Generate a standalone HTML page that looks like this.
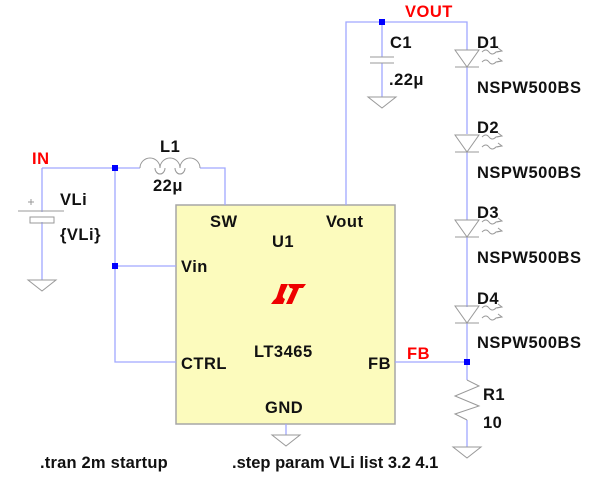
<!DOCTYPE html>
<html><head><style>body{margin:0;background:#fff}svg{display:block}
text{font-family:"Liberation Sans",sans-serif;font-weight:bold;font-size:16.5px;letter-spacing:0.5px;fill:#111}
.r{fill:#f00}
</style></head><body>
<svg width="600" height="478" viewBox="0 0 600 478">
<rect x="176" y="205" width="219" height="219" fill="#fcfbbd" stroke="#a6a6a6" stroke-width="1.5"/>
<g stroke="#a0a8ff" stroke-width="1.3" fill="none">
<path d="M42 168H140M200 168H225V205"/>
<path d="M42 168V212M42 222V280"/>
<path d="M115 168V362H176M115 266H176"/>
<path d="M346 205V22H467V50M382 22V57M382 63V97"/>
<path d="M467 67V134M467 152V220M467 237V307M467 323V380M395 362H467"/>
<path d="M467 420V447M286 424V435"/>
</g>
<g stroke="#999" stroke-width="1" fill="none">
<path d="M18 211H64M30 217h24v6h-24z"/>
<path d="M28 202h6M31 199v6"/>
<path d="M28 280H56L42 291Z"/>
<path d="M140 168a10 10 0 0 1 20 0a10 10 0 0 1 20 0a10 10 0 0 1 20 0"/>
<path d="M155 168a5 6 0 1 0 10 0M175 168a5 6 0 1 0 10 0"/>
<path d="M370 57H394M370 63H394M368 97H396L382 108Z"/>
<path d="M272 435H300L286 446Z"/>
<path d="M453 447H481L467 458Z"/>
<path d="M467 380L479 386L455 396L479 406L455 414L467 420"/>
<g id="d"><path d="M455 50H479L467 67ZM455 67H479"/>
<path d="M482 52q4-4 7 0t7 0l5-1M482 62q4-4 7 0t7 0l5-1M498 48l4 3-5 1M498 58l4 3-5 1"/></g>
<use href="#d" y="85"/><use href="#d" y="170"/><use href="#d" y="256"/>
</g>
<g fill="#00f"><rect x="112" y="165" width="6" height="6"/><rect x="112" y="263" width="6" height="6"/><rect x="379" y="19" width="6" height="6"/><rect x="464" y="359" width="6" height="6"/></g>
<path d="M281 284h7l-5 11q-1 3 2 4l-2 5h-12l3-4q2-1 3-4z" fill="#e00"/>
<path d="M288 284h18l-3 4h-4l-7 16h-6l7-15q-1-1-3-1z" fill="#e00"/>
<text class="r" x="32" y="164">IN</text>
<text x="60" y="205">VLi</text><text x="60" y="240">{VLi}</text>
<text x="160" y="152">L1</text><text x="153" y="191">22μ</text>
<text x="210" y="227">SW</text><text x="326" y="227">Vout</text>
<text x="272" y="247">U1</text><text x="181" y="272">Vin</text>
<text x="181" y="369">CTRL</text><text x="254" y="357">LT3465</text>
<text x="368" y="369">FB</text><text x="265" y="413">GND</text>
<text class="r" x="407" y="359">FB</text>
<text class="r" x="405" y="17">VOUT</text>
<text x="390" y="48">C1</text><text x="389" y="85">.22μ</text>
<text x="477" y="48">D1</text><text x="477" y="93">NSPW500BS</text>
<text x="477" y="133">D2</text><text x="477" y="178">NSPW500BS</text>
<text x="477" y="218">D3</text><text x="477" y="263">NSPW500BS</text>
<text x="477" y="304">D4</text><text x="477" y="348">NSPW500BS</text>
<text x="483" y="400">R1</text><text x="483" y="428">10</text>
<text x="40" y="468" style="letter-spacing:0.2px">.tran 2m startup</text>
<text x="232" y="468" style="letter-spacing:0">.step param VLi list 3.2 4.1</text>
</svg></body></html>
